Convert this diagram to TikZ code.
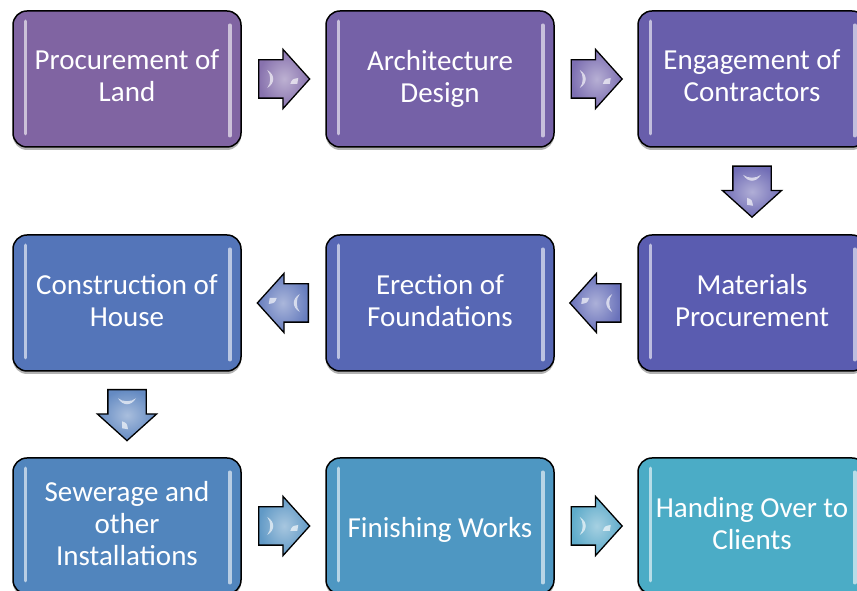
\documentclass[tikz,border=0pt]{standalone}
\usepackage{fontspec}
\setmainfont{Carlito}
\usetikzlibrary{shapes.arrows,shadows,calc}

% colour range for the nine steps (purple to teal)
\definecolor{c1}{RGB}{128,100,162}
\definecolor{c2}{RGB}{117,97,167}
\definecolor{c3}{RGB}{104,94,171}
\definecolor{c4}{RGB}{90,92,176}
\definecolor{c5}{RGB}{87,103,180}
\definecolor{c6}{RGB}{84,117,185}
\definecolor{c7}{RGB}{81,133,189}
\definecolor{c8}{RGB}{78,151,194}
\definecolor{c9}{RGB}{75,172,198}

\tikzset{
  stepbox/.style={rounded corners=14pt, minimum width=228pt, minimum height=136pt,
    draw=black, line width=1.5pt, text=white, align=center, inner sep=0pt,
    font=\fontsize{29}{32}\selectfont,
    execute at begin node={\rule{0pt}{29pt}},
    execute at end node={\rule[-6pt]{0pt}{6pt}},
    drop shadow={shadow xshift=0pt, shadow yshift=-3pt, opacity=0.3, fill=black}},
  glossbar/.style={draw=white, line width=3.5pt, line cap=round, opacity=0.6},
  flowarrow/.style={single arrow, draw=black, line width=1.3pt, anchor=tail,
    minimum height=51pt, minimum width=58pt, inner xsep=0pt, inner ysep=18.5pt,
    single arrow head extend=10.5pt, single arrow tip angle=96,
    inner color=#1!50!white, outer color=#1!90!white},
  arrowshine/.style={fill=white, opacity=0.65, draw=none}
}

% vertical highlight bars inside a step box
\newcommand\boxgloss[1]{%
  \draw[glossbar] ($(#1.south west)+(13,14)$) -- ($(#1.north west)+(13,-11)$);
  \draw[glossbar] ($(#1.south east)+(-12,12)$) -- ($(#1.north east)+(-12,-15)$);}

% small shine marks on a block arrow, drawn in the arrow's own frame
\newcommand\arrowgloss[2]{%
  \begin{scope}[shift={($(#1.tail)!0.5!(#1.tip)$)}, rotate=#2]
    \fill[arrowshine] (-17,9) .. controls (-9,4) and (-9,-4) .. (-17,-9)
                      .. controls (-13,-4) and (-13,4) .. (-17,9);
    \fill[arrowshine] (6,-5) .. controls (8,0) .. (14,1) -- (13,-5) -- cycle;
  \end{scope}}

\begin{document}
\begin{tikzpicture}[x=1pt, y=1pt]
  \useasboundingbox (0,0) rectangle (857,591);
  \clip (0,0) rectangle (857,591);

  % steps
  \node[stepbox, fill=c1] (s1) at (127,512) {Procurement of\\Land};
  \node[stepbox, fill=c2] (s2) at (440,512) {Architecture\\Design};
  \node[stepbox, fill=c3] (s3) at (752,512) {Engagement of\\Contractors};
  \node[stepbox, fill=c4] (s4) at (752,288) {Materials\\Procurement};
  \node[stepbox, fill=c5] (s5) at (440,288) {Erection of\\Foundations};
  \node[stepbox, fill=c6] (s6) at (127,288) {Construction of\\House};
  \node[stepbox, fill=c7] (s7) at (127,65) {Sewerage and\\other\\Installations};
  \node[stepbox, fill=c8] (s8) at (440,65) {Finishing Works};
  \node[stepbox, fill=c9] (s9) at (752,65) {Handing Over to\\Clients};

  \foreach \s in {s1,s2,s3,s4,s5,s6,s7,s8,s9} {\boxgloss{\s}}

  % block arrows between steps
  \node[flowarrow=c1!50!c2] (a1) at ($(s1.east)!0.5!(s2.west)+(-25.5,0)$) {};
  \node[flowarrow=c2!50!c3] (a2) at ($(s2.east)!0.5!(s3.west)+(-25.5,0)$) {};
  \node[flowarrow=c3!50!c4, rotate=-90] (a3) at ($(s3.south)!0.5!(s4.north)+(0,25.5)$) {};
  \node[flowarrow=c4!50!c5, rotate=180] (a4) at ($(s4.west)!0.5!(s5.east)+(25.5,0)$) {};
  \node[flowarrow=c5!50!c6, rotate=180] (a5) at ($(s5.west)!0.5!(s6.east)+(25.5,0)$) {};
  \node[flowarrow=c6!50!c7, rotate=-90] (a6) at ($(s6.south)!0.5!(s7.north)+(0,25.5)$) {};
  \node[flowarrow=c7!50!c8] (a7) at ($(s7.east)!0.5!(s8.west)+(-25.5,0)$) {};
  \node[flowarrow=c8!50!c9] (a8) at ($(s8.east)!0.5!(s9.west)+(-25.5,0)$) {};

  \arrowgloss{a1}{0}
  \arrowgloss{a2}{0}
  \arrowgloss{a3}{-90}
  \arrowgloss{a4}{180}
  \arrowgloss{a5}{180}
  \arrowgloss{a6}{-90}
  \arrowgloss{a7}{0}
  \arrowgloss{a8}{0}
\end{tikzpicture}
\end{document}
